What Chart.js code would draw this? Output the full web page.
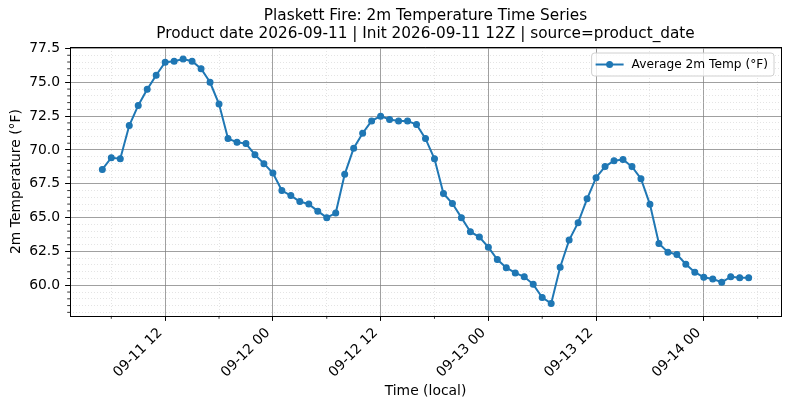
<!DOCTYPE html>
<html><head><meta charset="utf-8">
<script src="https://cdn.jsdelivr.net/npm/chart.js@4.4.1/dist/chart.umd.min.js"></script>
<style>html,body{margin:0;padding:0;background:#fff;} #wrap{width:789px;height:409px;position:relative;}</style>
</head><body><div id="wrap"><canvas id="c"></canvas></div>
<script>
const titleLines = ['Plaskett Fire: 2m Temperature Time Series', 'Product date 2026-09-11 | Init 2026-09-11 12Z | source=product_date'];
const seriesLabel = 'Average 2m Temp (°F)';
const xAxisTitle = 'Time (local)';
const yAxisTitle = '2m Temperature (°F)';
// hours since 2026-09-11 00:00 local
const hours = [5,6,7,8,9,10,11,12,13,14,15,16,17,18,19,20,21,22,23,24,
  25,26,27,28,29,30,31,32,33,34,35,36,37,38,39,40,41,42,43,44,45,46,47,48,
  49,50,51,52,53,54,55,56,57,58,59,60,61,62,63,64,65,66,67,68,69,70,71,72,
  73,74,75,76,77];
const temps = [68.56,69.43,69.36,71.81,73.29,74.48,75.52,76.48,76.56,76.73,76.56,76.01,75.0,73.39,70.84,70.57,70.47,69.65,68.99,68.3,
  67.0,66.63,66.19,66.0,65.48,65.0,65.34,68.2,70.13,71.24,72.15,72.5,72.25,72.15,72.15,71.88,70.84,69.35,66.79,66.04,65.0,63.96,63.56,62.82,
  61.9,61.3,60.91,60.63,60.07,59.1,58.66,61.34,63.34,64.63,66.39,67.95,68.77,69.21,69.29,68.77,67.88,65.98,63.09,62.45,62.28,61.56,60.97,60.59,
  60.47,60.22,60.63,60.56,60.56];
const xMajorTicks = [12,24,36,48,60,72];
const xTickLabels = ['09-11 12','09-12 00','09-12 12','09-13 00','09-13 12','09-14 00'];
const xMinorTicks = [6,18,30,42,54,66,78];
const yMajorTicks = [60,62.5,65,67.5,70,72.5,75,77.5];
const yTickLabels = ['60.0','62.5','65.0','67.5','70.0','72.5','75.0','77.5'];
const yMinorTicks = [58,58.5,59,59.5,60.5,61,61.5,62,63,63.5,64,64.5,65.5,66,66.5,67,68,68.5,69,69.5,70.5,71,71.5,72,73,73.5,74,74.5,75.5,76,76.5,77];
const xRange = [1.4, 80.6];
const yRange = [57.73, 77.61];

const FONT = 'DejaVu Sans';
const LINE_COLOR = '#1f77b4';

const minorTickPlugin = {
  id: 'minorTicks',
  afterDraw(chart) {
    const ctx = chart.ctx, ca = chart.chartArea;
    const xs = chart.scales.x, ys = chart.scales.y;
    ctx.save();
    ctx.strokeStyle = '#000';
    ctx.lineWidth = 0.8;
    xMinorTicks.forEach(v => {
      const p = xs.getPixelForValue(v);
      if (p < ca.left || p > ca.right) return;
      ctx.beginPath(); ctx.moveTo(p, ca.bottom); ctx.lineTo(p, ca.bottom + 2.8); ctx.stroke();
    });
    yMinorTicks.forEach(v => {
      const p = ys.getPixelForValue(v);
      if (p < ca.top || p > ca.bottom) return;
      ctx.beginPath(); ctx.moveTo(ca.left, p); ctx.lineTo(ca.left - 2.8, p); ctx.stroke();
    });
    ctx.restore();
  }
};

const legendPlugin = {
  id: 'mplLegend',
  afterDraw(chart) {
    const ctx = chart.ctx, ca = chart.chartArea;
    const ds = chart.data.datasets[0];
    ctx.save();
    ctx.font = '12.2px "' + FONT + '"';
    const tw = ctx.measureText(ds.label).width;
    const w = 4 + 28 + 8 + tw + 6;
    const h = 23;
    const right = ca.right - 7;
    const left = right - w;
    const top = ca.top + 6;
    ctx.beginPath();
    ctx.roundRect(left, top, w, h, 3);
    ctx.fillStyle = 'rgba(255,255,255,0.8)';
    ctx.fill();
    ctx.strokeStyle = '#d0d0d0';
    ctx.lineWidth = 1;
    ctx.stroke();
    const cy = top + h / 2;
    ctx.strokeStyle = ds.borderColor;
    ctx.lineWidth = 2;
    ctx.beginPath(); ctx.moveTo(left + 4, cy); ctx.lineTo(left + 32, cy); ctx.stroke();
    ctx.fillStyle = ds.borderColor;
    ctx.beginPath(); ctx.arc(left + 18, cy, 3.5, 0, Math.PI * 2); ctx.fill();
    ctx.fillStyle = '#000';
    ctx.textAlign = 'left';
    ctx.textBaseline = 'middle';
    ctx.fillText(ds.label, left + 40, cy + 0.5);
    ctx.restore();
  }
};

const points = hours.map((h, i) => ({x: h, y: temps[i]}));

new Chart(document.getElementById('c'), {
  type: 'line',
  data: {
    datasets: [{
      label: seriesLabel,
      data: points,
      borderColor: LINE_COLOR,
      backgroundColor: LINE_COLOR,
      borderWidth: 2,
      pointRadius: 2.9,
      pointHoverRadius: 2.9,
      pointBorderWidth: 1.2,
      pointBorderColor: LINE_COLOR,
      pointBackgroundColor: LINE_COLOR,
      tension: 0,
      fill: false
    }]
  },
  options: {
    responsive: true,
    maintainAspectRatio: false,
    animation: false,
    events: [],
    layout: { padding: { left: 0, right: 8, top: 0, bottom: 0 } },
    plugins: {
      legend: { display: false },
      tooltip: { enabled: false },
      title: {
        display: true,
        fullSize: false,
        text: titleLines,
        color: '#000',
        font: { family: FONT, size: 15.3, weight: 'normal', lineHeight: 1.18 },
        padding: { top: 7.3, bottom: 3.6 }
      }
    },
    scales: {
      x: {
        type: 'linear', position: 'bottom',
        min: xRange[0], max: xRange[1], bounds: 'data',
        afterBuildTicks: s => { s.ticks = xMajorTicks.map(v => ({value: v})); },
        afterFit: s => { s.height = 93; },
        ticks: {
          autoSkip: false, minRotation: 45, maxRotation: 45,
          padding: 4, labelOffset: -5,
          color: '#000', font: { family: FONT, size: 13.9 },
          callback: (v, i) => xTickLabels[i]
        },
        grid: { color: 'rgba(128,128,128,0.75)', lineWidth: 1, tickLength: 4.9, tickColor: '#000', tickWidth: 1, z: -1 },
        border: { display: true, color: '#000', width: 1 },
        title: { display: true, text: xAxisTitle, color: '#000', font: { family: FONT, size: 13.9, lineHeight: 1.2 }, padding: { top: 0, bottom: 9 } }
      },
      xMinor: {
        type: 'linear', position: 'top',
        min: xRange[0], max: xRange[1], bounds: 'data',
        afterBuildTicks: s => { s.ticks = xMinorTicks.map(v => ({value: v})); },
        afterFit: s => { s.height = 0; },
        ticks: { display: false },
        grid: { color: 'rgba(190,190,190,0.6)', lineWidth: 0.7, drawTicks: false, z: -1 },
        border: { display: true, color: '#000', width: 1, dash: [1, 2] }
      },
      y: {
        type: 'linear', position: 'left',
        min: yRange[0], max: yRange[1], bounds: 'data',
        afterBuildTicks: s => { s.ticks = yMajorTicks.map(v => ({value: v})); },
        afterFit: s => { s.width = 70; },
        ticks: {
          autoSkip: false, padding: 5,
          color: '#000', font: { family: FONT, size: 13.9 },
          callback: (v, i) => yTickLabels[i]
        },
        grid: { color: 'rgba(128,128,128,0.75)', lineWidth: 1, tickLength: 4.9, tickColor: '#000', tickWidth: 1, z: -1 },
        border: { display: true, color: '#000', width: 1 },
        title: { display: true, text: yAxisTitle, color: '#000', font: { family: FONT, size: 13.9, lineHeight: 1.2 }, padding: { top: 8.5, bottom: 0 } }
      },
      yMinor: {
        type: 'linear', position: 'right',
        min: yRange[0], max: yRange[1], bounds: 'data',
        afterBuildTicks: s => { s.ticks = yMinorTicks.map(v => ({value: v})); },
        afterFit: s => { s.width = 0; },
        ticks: { display: false },
        grid: { color: 'rgba(190,190,190,0.6)', lineWidth: 0.7, drawTicks: false, z: -1 },
        border: { display: true, color: '#000', width: 1, dash: [1, 2] }
      }
    }
  },
  plugins: [minorTickPlugin, legendPlugin]
});
</script>
</body></html>
